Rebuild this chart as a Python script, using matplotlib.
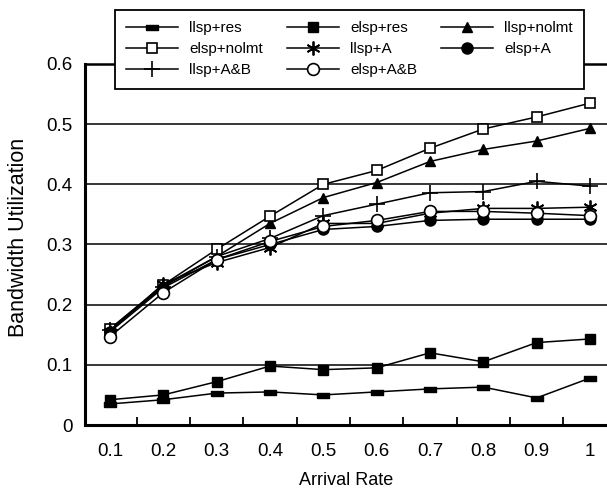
import numpy as np
import matplotlib
matplotlib.use("Agg")
import matplotlib.pyplot as plt

plt.rcParams["font.family"] = ["Liberation Sans", "DejaVu Sans"]

# Data
rates = ["0.1", "0.2", "0.3", "0.4", "0.5", "0.6", "0.7", "0.8", "0.9", "1"]
llsp_res = [0.035, 0.042, 0.053, 0.055, 0.050, 0.055, 0.060, 0.063, 0.045, 0.078]
elsp_res = [0.042, 0.050, 0.072, 0.098, 0.092, 0.095, 0.120, 0.105, 0.137, 0.143]
llsp_nolmt = [0.158, 0.232, 0.280, 0.335, 0.378, 0.403, 0.438, 0.458, 0.472, 0.493]
elsp_nolmt = [0.160, 0.233, 0.292, 0.347, 0.400, 0.423, 0.460, 0.492, 0.512, 0.535]
llsp_a = [0.155, 0.235, 0.270, 0.295, 0.335, 0.335, 0.352, 0.360, 0.360, 0.362]
elsp_a = [0.155, 0.228, 0.275, 0.300, 0.325, 0.330, 0.340, 0.342, 0.342, 0.342]
llsp_ab = [0.158, 0.230, 0.280, 0.310, 0.348, 0.367, 0.386, 0.388, 0.405, 0.397]
elsp_ab = [0.147, 0.220, 0.275, 0.305, 0.330, 0.340, 0.355, 0.355, 0.352, 0.348]

# flat bar marker for llsp+res
bar_marker = [(-1, -0.4), (1, -0.4), (1, 0.4), (-1, 0.4), (-1, -0.4)]

series = [
    ("llsp+res", llsp_res, dict(marker=bar_marker, ms=9, mfc="black")),
    ("elsp+res", elsp_res, dict(marker="s", ms=7.5, mfc="black")),
    ("llsp+nolmt", llsp_nolmt, dict(marker="^", ms=7.5, mfc="black")),
    ("elsp+nolmt", elsp_nolmt, dict(marker="s", ms=7.5, mfc="white", mew=1.2)),
    ("llsp+A", llsp_a, dict(marker=(6, 2, 0), ms=10, mew=1.3)),
    ("elsp+A", elsp_a, dict(marker="o", ms=8, mfc="black")),
    ("llsp+A&B", llsp_ab, dict(marker="+", ms=12, mew=1.2)),
    ("elsp+A&B", elsp_ab, dict(marker="o", ms=8.5, mfc="white", mew=1.2)),
]

fig = plt.figure(figsize=(6.07, 4.92), dpi=100)
ax = fig.add_axes([85 / 607, 1 - 425 / 492, 1 - 85 / 607, (425 - 64) / 492])

x = np.arange(len(rates))
handles = []
for label, vals, style in series:
    (h,) = ax.plot(x, vals, color="black", lw=1.1, mec="black", label=label,
                   zorder=3, **style)
    handles.append(h)

ax.set_xlim(-0.469, 9.319)
ax.set_ylim(0, 0.6)
ax.set_xticks(x)
ax.set_xticklabels(rates)
ax.set_xticks(np.arange(0.5, 9.0, 1.0), minor=True)
ax.set_yticks([0, 0.1, 0.2, 0.3, 0.4, 0.5, 0.6])
ax.set_yticklabels(["0", "0.1", "0.2", "0.3", "0.4", "0.5", "0.6"])
ax.tick_params(axis="x", which="major", length=0, pad=13, labelsize=13.5)
ax.tick_params(axis="x", which="minor", direction="in", length=6, width=1.3)
ax.tick_params(axis="y", length=0, pad=9, labelsize=13.5)

for yv in [0.1, 0.2, 0.3, 0.4, 0.5]:
    ax.axhline(yv, color="black", lw=1.1, zorder=1)

ax.spines["right"].set_visible(False)
ax.spines["left"].set_linewidth(2.2)
ax.spines["bottom"].set_linewidth(2.2)
ax.spines["top"].set_linewidth(1.8)

ax.set_xlabel("Arrival Rate", fontsize=13)
ax.set_ylabel("Bandwidth Utilization", fontsize=15.5)
ax.xaxis.set_label_coords(0.5, -0.13)
ax.yaxis.set_label_coords(-0.108, 0.52)

# legend fills column by column, so reorder to get row-wise order
order = [0, 3, 6, 1, 4, 7, 2, 5]
leg = fig.legend(handles=[handles[i] for i in order], ncol=3, loc="upper left",
                 bbox_to_anchor=(115 / 607, 1 - 10 / 492),
                 fontsize=11, frameon=True, fancybox=False, framealpha=1,
                 edgecolor="black", handlelength=3.4, handletextpad=0.7,
                 columnspacing=1.6, labelspacing=0.45, borderpad=0.75,
                 borderaxespad=0)
leg.get_frame().set_linewidth(1.3)

fig.savefig("out.png", dpi=100)
